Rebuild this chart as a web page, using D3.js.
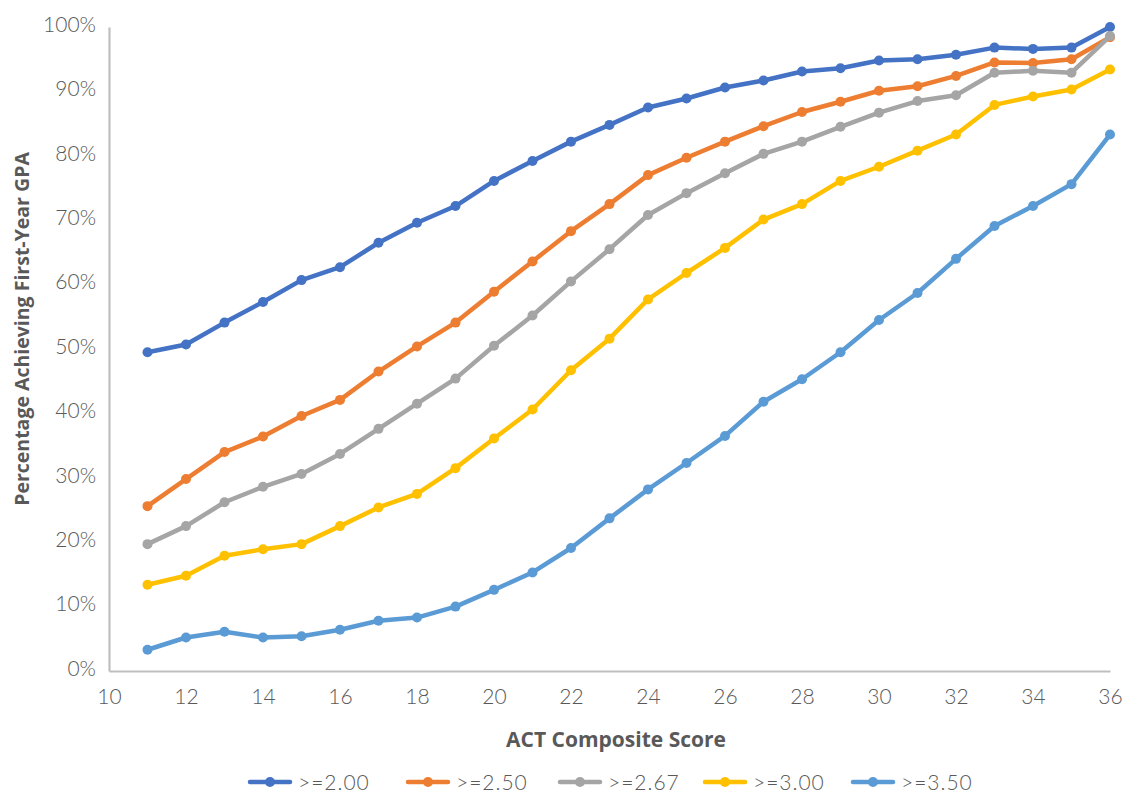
<!DOCTYPE html>
<html>
<head>
<meta charset="utf-8">
<script src="https://cdn.jsdelivr.net/npm/d3@7"></script>
<style>
  body { margin: 0; background: #fff; }
  text { font-family: Lato, "Open Sans", sans-serif; }
</style>
</head>
<body>
<div id="chart"></div>
<script>
const WIDTH = 1130;
const HEIGHT = 793;

// ACT composite scores
const scores = [11, 12, 13, 14, 15, 16, 17, 18, 19, 20, 21, 22, 23, 24, 25, 26, 27, 28, 29, 30, 31, 32, 33, 34, 35, 36];

// percent achieving first-year GPA at each threshold
const gpa200 = [49.5, 50.7, 54.1, 57.3, 60.7, 62.7, 66.5, 69.6, 72.2, 76.1, 79.2, 82.2, 84.8, 87.5, 88.9, 90.6, 91.7, 93.1, 93.6, 94.8, 95.0, 95.7, 96.8, 96.6, 96.8, 100];
const gpa250 = [25.6, 29.8, 34.0, 36.4, 39.6, 42.1, 46.5, 50.4, 54.1, 58.9, 63.6, 68.3, 72.5, 77.0, 79.7, 82.2, 84.6, 86.8, 88.4, 90.1, 90.8, 92.4, 94.5, 94.4, 95.0, 98.4];
const gpa267 = [19.7, 22.5, 26.2, 28.6, 30.6, 33.7, 37.6, 41.5, 45.4, 50.5, 55.2, 60.5, 65.5, 70.8, 74.2, 77.3, 80.3, 82.2, 84.5, 86.7, 88.5, 89.4, 92.9, 93.2, 92.9, 98.6];
const gpa300 = [13.4, 14.8, 17.9, 18.9, 19.7, 22.5, 25.4, 27.5, 31.5, 36.1, 40.6, 46.7, 51.6, 57.7, 61.8, 65.7, 70.1, 72.5, 76.1, 78.3, 80.8, 83.3, 87.9, 89.2, 90.3, 93.4];
const gpa350 = [3.3, 5.2, 6.1, 5.2, 5.4, 6.4, 7.8, 8.3, 10.0, 12.6, 15.3, 19.1, 23.7, 28.2, 32.3, 36.5, 41.8, 45.3, 49.5, 54.5, 58.7, 64.0, 69.1, 72.2, 75.6, 83.3];

const seriesNames = [">=2.00", ">=2.50", ">=2.67", ">=3.00", ">=3.50"];
const seriesValues = [gpa200, gpa250, gpa267, gpa300, gpa350];
const seriesColors = ["#4472C4", "#ED7D31", "#A5A5A5", "#FFC000", "#5B9BD5"];

const xTicks = [10, 12, 14, 16, 18, 20, 22, 24, 26, 28, 30, 32, 34, 36];
const yTicks = [0, 10, 20, 30, 40, 50, 60, 70, 80, 90, 100];

const margin = { top: 27, right: 20, bottom: 122, left: 109 };

const svg = d3.select("#chart").append("svg")
    .attr("width", WIDTH)
    .attr("height", HEIGHT);

const x = d3.scaleLinear()
    .domain([10, 36])
    .range([margin.left, WIDTH - margin.right]);

const y = d3.scaleLinear()
    .domain([0, 100])
    .range([HEIGHT - margin.bottom, margin.top]);

// axes
const xAxis = svg.append("g")
    .attr("transform", `translate(0,${y(0)})`)
    .call(d3.axisBottom(x).tickValues(xTicks).tickSize(0).tickPadding(18));

const yAxis = svg.append("g")
    .attr("transform", `translate(${x(10)},0)`)
    .call(d3.axisLeft(y).tickValues(yTicks).tickSize(0).tickPadding(13).tickFormat(d => d + "%"));

[xAxis, yAxis].forEach(g => {
    g.select(".domain").attr("stroke", "#bfbfbf").attr("stroke-width", 2.2);
    g.selectAll("text")
        .attr("fill", "#595959")
        .style("font-size", "21px")
        .style("font-weight", 300);
});
yAxis.selectAll("text").attr("dy", "0.2em");

// axis titles (wider bold face, like the original)
svg.append("text")
    .attr("x", 616)
    .attr("y", 747)
    .attr("text-anchor", "middle")
    .attr("fill", "#595959")
    .style("font-family", "'Open Sans', sans-serif")
    .style("font-size", "21px")
    .style("font-weight", 700)
    .text("ACT Composite Score");

svg.append("text")
    .attr("transform", "translate(22,329) rotate(-90)")
    .attr("dy", "0.35em")
    .attr("text-anchor", "middle")
    .attr("fill", "#595959")
    .style("font-family", "'Open Sans', sans-serif")
    .style("font-size", "19.5px")
    .style("font-weight", 700)
    .text("Percentage Achieving First-Year GPA");

// lines
const line = d3.line()
    .x((d, i) => x(scores[i]))
    .y(d => y(d));

seriesValues.forEach((vals, k) => {
    const g = svg.append("g").attr("class", "serie");
    g.append("path")
        .datum(vals)
        .attr("fill", "none")
        .attr("stroke", seriesColors[k])
        .attr("stroke-width", 4.5)
        .attr("stroke-linejoin", "round")
        .attr("stroke-linecap", "round")
        .attr("d", line);
    g.selectAll("circle")
        .data(vals)
        .enter()
        .append("circle")
        .attr("cx", (d, i) => x(scores[i]))
        .attr("cy", d => y(d))
        .attr("r", 5)
        .attr("fill", seriesColors[k]);
});

// legend
const legendX = [250, 408, 560, 705, 853];
const legend = svg.append("g").attr("transform", "translate(0,782)");
seriesNames.forEach((name, k) => {
    const item = legend.append("g").attr("transform", `translate(${legendX[k]},0)`);
    item.append("line")
        .attr("x1", 0).attr("x2", 40)
        .attr("stroke", seriesColors[k])
        .attr("stroke-width", 4.5)
        .attr("stroke-linecap", "round");
    item.append("circle")
        .attr("cx", 20)
        .attr("r", 5)
        .attr("fill", seriesColors[k]);
    item.append("text")
        .attr("x", 48)
        .attr("dy", "0.36em")
        .attr("fill", "#595959")
        .style("font-size", "21px")
        .style("font-weight", 300)
        .style("letter-spacing", "1px")
        .text(name);
});
</script>
</body>
</html>
